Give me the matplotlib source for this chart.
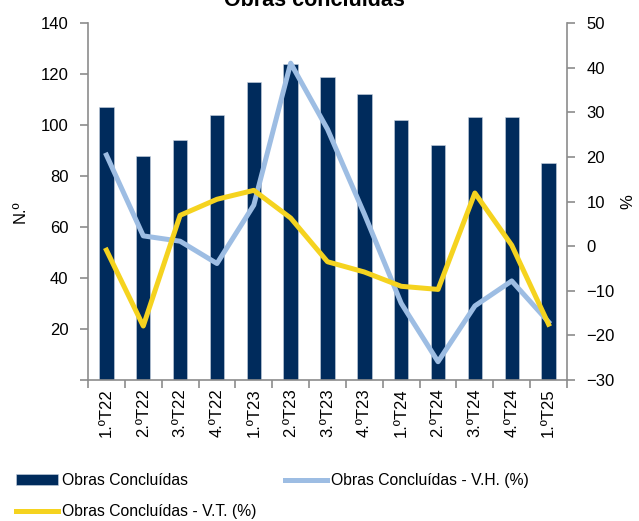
import matplotlib
matplotlib.use("Agg")
import matplotlib.pyplot as plt
import numpy as np

plt.rcParams['font.family'] = ['Liberation Sans', 'DejaVu Sans']

categories = ["1.ºT22", "2.ºT22", "3.ºT22", "4.ºT22", "1.ºT23", "2.ºT23", "3.ºT23",
              "4.ºT23", "1.ºT24", "2.ºT24", "3.ºT24", "4.ºT24", "1.ºT25"]
obras = [107, 88, 94, 104, 117, 124, 119, 112, 102, 92, 103, 103, 85]
vh = [20.4, 2.3, 1.1, -3.9, 9.2, 41.0, 26.2, 7.2, -12.8, -25.9, -13.4, -7.8, -17.0]
vt = [-0.9, -17.9, 6.9, 10.5, 12.5, 6.3, -3.5, -5.8, -9.0, -9.7, 11.9, 0.2, -17.5]

navy = '#002B5C'
lblue = '#9DBDE3'
yellow = '#F5D31F'
gray = '#8C8C8C'

fig = plt.figure(figsize=(6.39, 5.21), dpi=100)
ax = fig.add_axes([88/639, 1-380/521, (567-88)/639, (380-23)/521])
ax2 = ax.twinx()

x = np.arange(len(categories))
bars = ax.bar(x, obras, width=0.39, color=navy, edgecolor='#C9D3E0', linewidth=0.4,
              label='Obras Concluídas', zorder=2)
l_vh, = ax2.plot(x, vh, color=lblue, lw=3.6, label='Obras Concluídas - V.H. (%)',
                 solid_joinstyle='round', zorder=2)
l_vt, = ax2.plot(x, vt, color=yellow, lw=3.6, label='Obras Concluídas - V.T. (%)',
                 solid_joinstyle='round', zorder=4)

ax.set_xlim(-0.5, len(categories)-0.5)
ax.set_ylim(0, 140)
ax2.set_ylim(-30, 50)
ax.set_yticks(np.arange(0, 141, 20))
ax.set_yticklabels([''] + [str(v) for v in range(20, 141, 20)])
ax2.set_yticks(np.arange(-30, 51, 10))

ax.set_xticks(np.arange(-0.5, len(categories), 1))
ax.set_xticklabels([])
ax.set_xticks(x, minor=True)
ax.set_xticklabels(categories, minor=True, rotation=90, fontsize=12)
ax.tick_params(axis='x', which='minor', length=0, pad=6)
ax.tick_params(axis='x', which='major', length=6, color=gray, width=1.2)

for a in (ax, ax2):
    a.spines['top'].set_visible(False)
    for s in ('left', 'right', 'bottom'):
        a.spines[s].set_color(gray)
        a.spines[s].set_linewidth(1.2)
ax.spines['right'].set_visible(False)
ax2.spines['left'].set_visible(False)
ax2.spines['bottom'].set_visible(False)

ax.tick_params(axis='y', labelsize=12, length=6, color=gray, width=1.2, pad=8)
ax2.tick_params(axis='y', labelsize=12, length=6, color=gray, width=1.2, pad=8)

fig.text(20/639, 1-212/521, 'N.º', rotation=90, ha='center', va='center', fontsize=12)
fig.text(628/639, 1-202/521, '%', rotation=90, ha='center', va='center', fontsize=12)
fig.text(314/639, 1-6/521, 'Obras concluídas', ha='center', va='baseline',
         fontsize=15.5, fontweight='bold')

fig.legend(handles=[bars, l_vt, l_vh],
           labels=['Obras Concluídas', 'Obras Concluídas - V.T. (%)', 'Obras Concluídas - V.H. (%)'],
           ncol=2, loc='upper left', bbox_to_anchor=(16/639, 1-473/521),
           frameon=False, fontsize=11.3, handlelength=2.65, handletextpad=0.3,
           columnspacing=1.8, labelspacing=1.05, borderaxespad=0, borderpad=0)

fig.savefig('out.png', dpi=100)
